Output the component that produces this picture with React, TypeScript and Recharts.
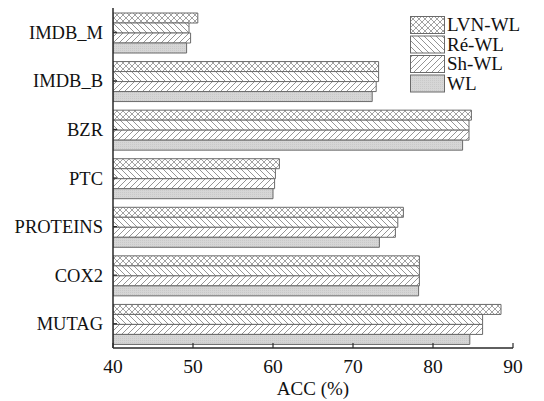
import React from 'react';
import { BarChart, Bar, XAxis, YAxis, Legend } from 'recharts';

const categories = ['IMDB_M', 'IMDB_B', 'BZR', 'PTC', 'PROTEINS', 'COX2', 'MUTAG'];
const lvnWL = [50.6, 73.2, 84.8, 60.8, 76.3, 78.3, 88.5];
const reWL = [49.5, 73.2, 84.5, 60.3, 75.6, 78.3, 86.2];
const shWL = [49.7, 72.9, 84.5, 60.2, 75.3, 78.3, 86.2];
const wl = [49.2, 72.4, 83.7, 60.0, 73.3, 78.2, 84.6];
const xTicks = [40, 50, 60, 70, 80, 90];

const seriesNames = ['LVN-WL', 'Ré-WL', 'Sh-WL', 'WL'];
const seriesKeys = ['lvn', 're', 'sh', 'wl'];
const seriesFills = ['url(#pCross)', 'url(#pBack)', 'url(#pFwd)', 'url(#pGrey)'];

const data = categories.map((c, i) => ({
  name: c,
  lvn: lvnWL[i],
  re: reWL[i],
  sh: shWL[i],
  wl: wl[i],
}));

const FONT = '"Liberation Serif", "Times New Roman", serif';
const AXIS = '#2a2a2a';
const BAR_STROKE = '#6a6a6a';

const XTick = (props: any) => {
  const { x, y, payload } = props;
  return (
    <g>
      <line x1={x} x2={x} y1={y} y2={y - 5} stroke={AXIS} strokeWidth={1.2} />
      <text x={x} y={y + 25} textAnchor="middle" fontFamily={FONT} fontSize={19.5} fill="#111">
        {payload.value}
      </text>
    </g>
  );
};

const YTick = (props: any) => {
  const { x, y, payload } = props;
  return (
    <g>
      <line x1={x} x2={x + 4} y1={y} y2={y} stroke={AXIS} strokeWidth={1.2} />
      <text x={x - 10} y={y + 6.5} textAnchor="end" fontFamily={FONT} fontSize={18.5} fill="#111">
        {payload.value}
      </text>
    </g>
  );
};

const renderLegend = () => (
  <svg width={134} height={84} style={{ display: 'block', overflow: 'visible' }}>
    {seriesNames.map((n, i) => (
      <g key={n}>
        <rect x={0.5} y={0.5 + i * 19.5} width={34} height={17} fill={seriesFills[i]} stroke={BAR_STROKE} strokeWidth={1} />
        <text x={37} y={15 + i * 19.5} fontFamily={FONT} fontSize={19} fill="#111">
          {n}
        </text>
      </g>
    ))}
  </svg>
);

export default function App() {
  return (
    <div style={{ position: 'absolute', left: 0, top: 0, width: 544, height: 401, background: '#fff' }}>
      <BarChart
        width={544}
        height={401}
        data={data}
        layout="vertical"
        margin={{ top: 8, right: 31, bottom: 0, left: 0 }}
        barCategoryGap={5}
        barGap={0}
      >
        <defs>
          <pattern id="pCross" patternUnits="userSpaceOnUse" width={6} height={6}>
            <rect width={6} height={6} fill="#fff" />
            <path d="M0,0 L6,6 M6,0 L0,6" stroke="#8a8a8a" strokeWidth={0.8} />
          </pattern>
          <pattern id="pBack" patternUnits="userSpaceOnUse" width={6} height={6}>
            <rect width={6} height={6} fill="#fff" />
            <path d="M-1,-1 L7,7 M-1,5 L1,7 M5,-1 L7,1" stroke="#7a7a7a" strokeWidth={0.8} />
          </pattern>
          <pattern id="pFwd" patternUnits="userSpaceOnUse" width={6} height={6}>
            <rect width={6} height={6} fill="#fff" />
            <path d="M-1,7 L7,-1 M-1,1 L1,-1 M5,7 L7,5" stroke="#7a7a7a" strokeWidth={0.8} />
          </pattern>
          <pattern id="pGrey" patternUnits="userSpaceOnUse" width={2} height={2}>
            <rect width={2} height={2} fill="#d6d6d6" />
            <rect width={1} height={1} fill="#c9c9c9" />
          </pattern>
        </defs>
        <XAxis
          type="number"
          domain={[40, 90]}
          ticks={xTicks}
          height={53}
          axisLine={{ stroke: AXIS, strokeWidth: 1.5 }}
          tickLine={false}
          tickSize={0}
          tickMargin={0}
          tick={<XTick />}
          interval={0}
          allowDataOverflow
          label={{ value: 'ACC (%)', position: 'insideBottom', offset: 6, fontFamily: FONT, fontSize: 19, fill: '#111' }}
        />
        <YAxis
          type="category"
          dataKey="name"
          width={113}
          axisLine={{ stroke: AXIS, strokeWidth: 1.5 }}
          tickLine={false}
          tickSize={0}
          tickMargin={0}
          tick={<YTick />}
          interval={0}
        />
        <Legend
          content={renderLegend}
          layout="vertical"
          align="center"
          verticalAlign="middle"
          wrapperStyle={{ position: 'absolute', top: 16, left: 410, width: 134, height: 84 }}
        />
        {seriesKeys.map((k, i) => (
          <Bar
            key={k}
            dataKey={k}
            name={seriesNames[i]}
            fill={seriesFills[i]}
            stroke={BAR_STROKE}
            strokeWidth={1}
            isAnimationActive={false}
          />
        ))}
      </BarChart>
    </div>
  );
}
